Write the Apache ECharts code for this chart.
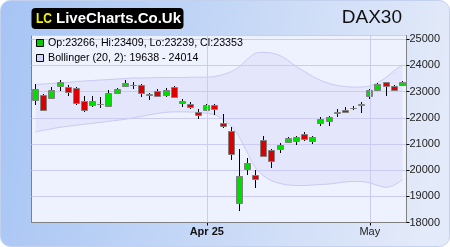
<!DOCTYPE html>
<html>
<head>
<meta charset="utf-8">
<script src="https://cdn.jsdelivr.net/npm/echarts@6/dist/echarts.min.js"></script>
<style>
html,body{margin:0;padding:0;background:#ffffff;}
#c{width:450px;height:247px;}
</style>
</head>
<body>
<div id="c"></div>
<script>
// ---- data ----
const dates = ['2025-03-03','2025-03-04','2025-03-05','2025-03-06','2025-03-07','2025-03-10','2025-03-11','2025-03-12','2025-03-13','2025-03-14','2025-03-17','2025-03-18','2025-03-19','2025-03-20','2025-03-21','2025-03-24','2025-03-25','2025-03-26','2025-03-27','2025-03-28','2025-03-31','2025-04-01','2025-04-02','2025-04-03','2025-04-04','2025-04-07','2025-04-08','2025-04-09','2025-04-10','2025-04-11','2025-04-14','2025-04-15','2025-04-16','2025-04-17','2025-04-22','2025-04-23','2025-04-24','2025-04-25','2025-04-28','2025-04-29','2025-04-30','2025-05-02','2025-05-05','2025-05-06','2025-05-07','2025-05-08'];
const opens  = [22665,22855,22753,23209,23184,23148,22654,22502,22540,22449,22943,23209,23260,23260,22890,23019,22867,23184,22547,22540,22236,22311,22475,21817,21513,18738,20030,19802,21171,20753,20791,21057,21095,21399,21133,21791,21867,22200,22311,22370,22490,22817,23045,23361,23224,23266];
const highs  = [23300,22893,23171,23463,23235,23184,22817,22817,22791,23045,23133,23452,23361,23300,22943,23110,23148,23220,22730,22600,22323,22540,22540,22133,21639,20813,20461,20005,21297,20803,21042,21259,21297,21460,21297,22030,22068,22323,22410,22437,22600,23110,23349,23387,23260,23409];
const lows   = [22502,22285,22740,23019,22829,22502,22209,22399,22372,22410,22893,23195,23083,22791,22665,22791,22791,22791,22410,22334,21943,22260,22121,21613,20385,18456,19815,19331,20500,20091,20661,21030,20943,21118,20981,21688,21688,22030,22198,22285,22182,22703,23019,22829,23060,23239];
const closes = [23110,22311,23072,23387,22996,22563,22311,22654,22545,22958,23110,23338,23255,22958,22895,22844,23072,22806,22661,22426,22121,22501,22350,21688,20600,19764,20258,19650,20536,20346,20943,21232,21270,21209,21270,21943,22030,22235,22236,22375,22515,23072,23300,23224,23072,23353];
const bbUpper = [23273,23292,23311,23330,23349,23387,23406,23425,23444,23463,23482,23501,23520,23520,23528,23539,23539,23539,23539,23551,23551,23551,23578,23654,23760,23950,24250,24471,24502,24471,24376,24186,23958,23768,23578,23425,23311,23235,23197,23171,23178,23216,23349,23539,23806,24014];
const bbLower = [21460,21525,21582,21639,21677,21715,21753,21791,21829,21867,21905,21943,22000,22057,22114,22171,22209,22228,22228,22220,22209,22171,22114,21943,21677,21259,20651,20081,19777,19587,19490,19433,19414,19414,19433,19452,19471,19509,19547,19566,19566,19509,19414,19346,19433,19638];
const xTickIdx = [21, 41];
const xTickText = ['Apr 25', 'May'];
const xTickBold = [true, false];
const yTicks = [18000,19000,20000,21000,22000,23000,24000,25000];
const title = 'DAX30';
const bbLabel = 'Bollinger (20, 2)';

// ---- build ----
const chart = echarts.init(document.getElementById('c'), null, {renderer:'canvas', width:450, height:247});
const FONT = '"Liberation Sans", Arial, sans-serif';
const n = dates.length;
const candleData = dates.map((d,i)=>[i, opens[i], closes[i], lows[i], highs[i]]);
const bbDiff = bbUpper.map((u,i)=>u - bbLower[i]);
const last = n-1;
const legend1 = 'Op:' + opens[last] + ', Hi:' + highs[last] + ', Lo:' + lows[last] + ', Cl:' + closes[last];
const legend2 = bbLabel + ': ' + bbLower[last] + ' - ' + bbUpper[last];

function renderCandle(params, api){
  const i = api.value(0);
  const o = api.value(1), c = api.value(2), l = api.value(3), h = api.value(4);
  const pH = api.coord([i, h]), pL = api.coord([i, l]), pO = api.coord([i, o]), pC = api.coord([i, c]);
  const x = Math.floor(pH[0]);
  const top = Math.round(Math.min(pO[1], pC[1]));
  const bot = Math.round(Math.max(pO[1], pC[1]));
  const up = c >= o;
  return {type:'group', children:[
    {type:'line', shape:{x1:x+0.5, y1:Math.round(pH[1]), x2:x+0.5, y2:Math.round(pL[1])}, style:{stroke:'#000000', lineWidth:1}},
    {type:'rect', shape:{x:x-3+0.5, y:top+0.5, width:6, height:Math.max(bot-top,0)}, style:{fill: up ? '#00dd00' : '#dd0000', stroke:'#808080', lineWidth:1}}
  ]};
}

const yMax = 25145;
const option = {
  animation: false,
  backgroundColor: '#ffffff',
  grid: {left:31.5, right:43.5, top:35.5, bottom:24.5, show:true, backgroundColor:'#eef2fe', borderColor:'#808080', borderWidth:1},
  xAxis: {
    type:'category', data: dates, boundaryGap:true,
    axisLine:{show:true, lineStyle:{color:'#808080', width:1}},
    axisTick:{show:true, alignWithLabel:true, length:3, lineStyle:{color:'#000'}, interval:(i)=>xTickIdx.indexOf(i)>=0},
    axisLabel:{show:true, margin:4, fontSize:11, fontFamily:FONT, color:'#222',
      interval:(i)=>xTickIdx.indexOf(i)>=0,
      formatter:(v,i)=>{const k=xTickIdx.indexOf(i); if(k<0) return ''; return xTickBold[k] ? '{b|'+xTickText[k]+'}' : xTickText[k];},
      rich:{b:{fontWeight:'bold', fontSize:11, fontFamily:FONT, color:'#111'}}},
    splitLine:{show:false}
  },
  yAxis: {
    type:'value', position:'right', min:yTicks[0], max:yMax, interval:1000, scale:true,
    axisLine:{show:true, lineStyle:{color:'#808080'}},
    axisTick:{show:true, length:3, lineStyle:{color:'#000'}},
    axisLabel:{margin:3, fontSize:11, fontFamily:FONT, color:'#222', showMaxLabel:false,
      formatter:(v)=> yTicks.indexOf(v)>=0 ? String(v) : ''},
    splitLine:{show:true, lineStyle:{color:'#cbcbf6', width:1}}
  },
  graphic: [
    {type:'rect', z:-100, shape:{x:0.5, y:0.5, width:449, height:246, r:10},
      style:{fill:new echarts.graphic.LinearGradient(0,0,1,0.35,[{offset:0,color:'#a6c4f4'},{offset:1,color:'#e3eaf9'}]), stroke:'#c3d1ef', lineWidth:1}},
    {type:'rect', z:100, shape:{x:31.5, y:8, width:152, height:21, r:4}, style:{fill:'#000000'}},
    {type:'text', z:101, x:36, y:18.5, scaleX:0.8, style:{text:'LC', fill:'#f4f400', font:'bold 15px '+FONT, textVerticalAlign:'middle'}},
    {type:'text', z:101, x:56, y:18.5, style:{text:'LiveCharts.Co.Uk', fill:'#ffffff', font:'bold 15px '+FONT, textVerticalAlign:'middle'}},
    {type:'text', z:101, x:402, y:17.5, style:{text:title, fill:'#111111', font:'19px '+FONT, textAlign:'right', textVerticalAlign:'middle'}},
    {type:'rect', z:101, shape:{x:36.5, y:39.5, width:7, height:7}, style:{fill:'#00cc00', stroke:'#000000', lineWidth:1}},
    {type:'text', z:101, x:48, y:43.5, style:{text:legend1, fill:'#000000', font:'10.7px '+FONT, textVerticalAlign:'middle'}},
    {type:'rect', z:101, shape:{x:36.5, y:54.5, width:7, height:7}, style:{fill:'#d4d4fb', stroke:'#000000', lineWidth:1}},
    {type:'text', z:101, x:48, y:58, style:{text:legend2, fill:'#000000', font:'10.7px '+FONT, textVerticalAlign:'middle'}}
  ],
  series: [
    {type:'line', name:'bbLower', data:bbLower, stack:'bb', smooth:0.3, showSymbol:false, silent:true, z:1,
      lineStyle:{color:'#c9c9f3', width:1},
      markLine:{silent:true, symbol:['none','none'], label:{show:false}, animation:false,
        lineStyle:{color:'#cbcbf6', type:'solid', width:1},
        data: xTickIdx.map(i=>({xAxis: dates[i]}))}},
    {type:'line', name:'bbUpper', data:bbDiff, stack:'bb', smooth:0.3, showSymbol:false, silent:true, z:1,
      lineStyle:{color:'#c9c9f3', width:1},
      areaStyle:{color:'rgba(205,205,248,0.4)'}},
    {type:'custom', name:'DAX30', data:candleData, renderItem:renderCandle, z:3, silent:true,
      encode:{x:0, y:[1,2,3,4]}}
  ]
};
chart.setOption(option);
</script>
</body>
</html>
